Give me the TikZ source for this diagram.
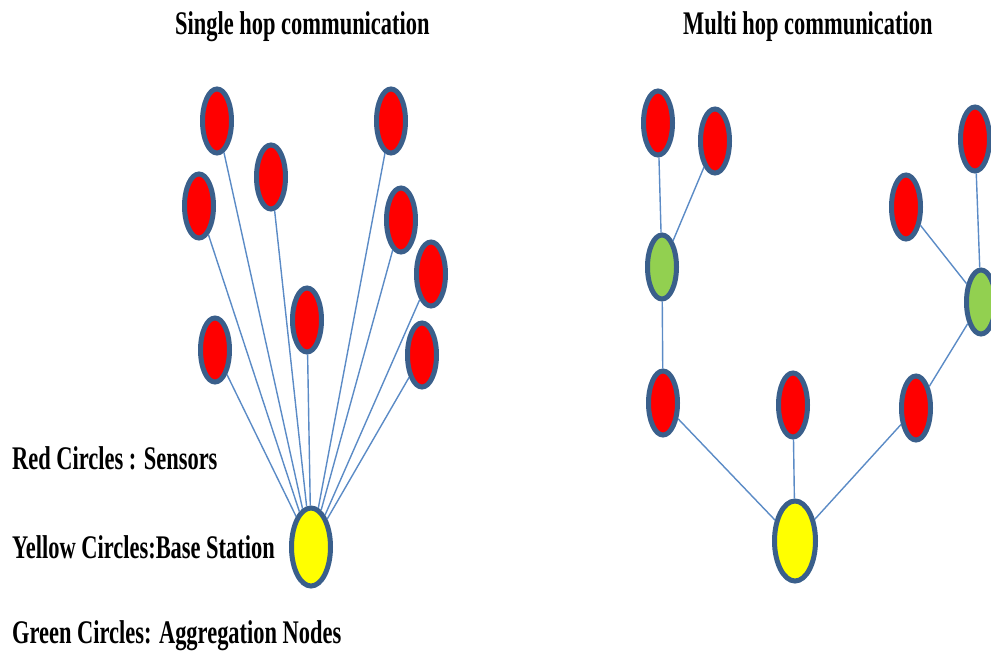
\documentclass[tikz,border=0pt]{standalone}
\usepackage{fontspec}
\setmainfont{Liberation Serif}
\usetikzlibrary{shapes.geometric}
\definecolor{nodeborder}{HTML}{3A5F8B}
\definecolor{linkblue}{HTML}{5B8BC6}
\definecolor{sred}{HTML}{FF0000}
\definecolor{agreen}{HTML}{92D050}
\definecolor{byellow}{HTML}{FFFF00}
\tikzset{
  sensor/.style={ellipse, draw=nodeborder, line width=5pt, fill=sred,
    minimum width=29pt, minimum height=64pt, inner sep=0pt},
  aggr/.style={sensor, fill=agreen},
  bstation/.style={sensor, fill=byellow, minimum width=39pt, minimum height=78pt},
  link/.style={draw=linkblue, line width=1.4pt},
  lbl/.style={anchor=base west, inner sep=0pt,
    font=\fontsize{33}{40}\selectfont\bfseries},
}
\newcommand{\condtxt}[1]{\scalebox{0.68}[1]{#1}}
\begin{document}
\begin{tikzpicture}[x=1pt, y=-1pt]
\useasboundingbox (0,0) rectangle (991,654);
\clip (0,0) rectangle (991,654);
% titles
\node[lbl] (t1) at (175,34.5) {\condtxt{Single hop communication}};
\node[lbl] (t2) at (683,34.5) {\condtxt{Multi hop communication}};
% legend
\node[lbl] (l1) at (12,469) {\condtxt{Red Circles : Sensors}};
\node[lbl] (l2) at (12,558) {\condtxt{Yellow Circles:Base Station}};
\node[lbl] (l3) at (12,643) {\condtxt{Green Circles: Aggregation Nodes}};
% single hop
\node[sensor] (n1) at (217,121) {};
\node[sensor] (n2) at (271,177) {};
\node[sensor] (n3) at (199,206) {};
\node[sensor] (n4) at (391,121) {};
\node[sensor] (n5) at (401,220) {};
\node[sensor] (n6) at (431,274) {};
\node[sensor] (n7) at (307,320) {};
\node[sensor] (n8) at (215,350) {};
\node[sensor] (n9) at (422,355) {};
\node[bstation] (bs1) at (311,547) {};
\foreach \n in {n1,n2,n3,n4,n5,n6,n7,n8,n9}
  \draw[link] (\n) -- (bs1);
% multi hop
\node[sensor] (r1) at (658,123) {};
\node[sensor] (r2) at (715,141) {};
\node[aggr] (g1) at (662,267) {};
\node[sensor] (r3) at (906,207) {};
\node[sensor] (r4) at (975,139) {};
\node[aggr] (g2) at (981,302) {};
\node[sensor] (r5) at (663,403) {};
\node[sensor] (r6) at (793,405) {};
\node[sensor] (r7) at (916,408) {};
\node[bstation, minimum width=41pt, minimum height=80pt] (bs2) at (795,541) {};
\draw[link] (r1) -- (g1);
\draw[link] (r2) -- (g1);
\draw[link] (g1) -- (r5);
\draw[link] (r5) -- (bs2);
\draw[link] (r6) -- (bs2);
\draw[link] (r7) -- (bs2);
\draw[link] (r7) -- (g2);
\draw[link] (r3) -- (g2);
\draw[link] (r4) -- (g2);
\end{tikzpicture}
\end{document}
